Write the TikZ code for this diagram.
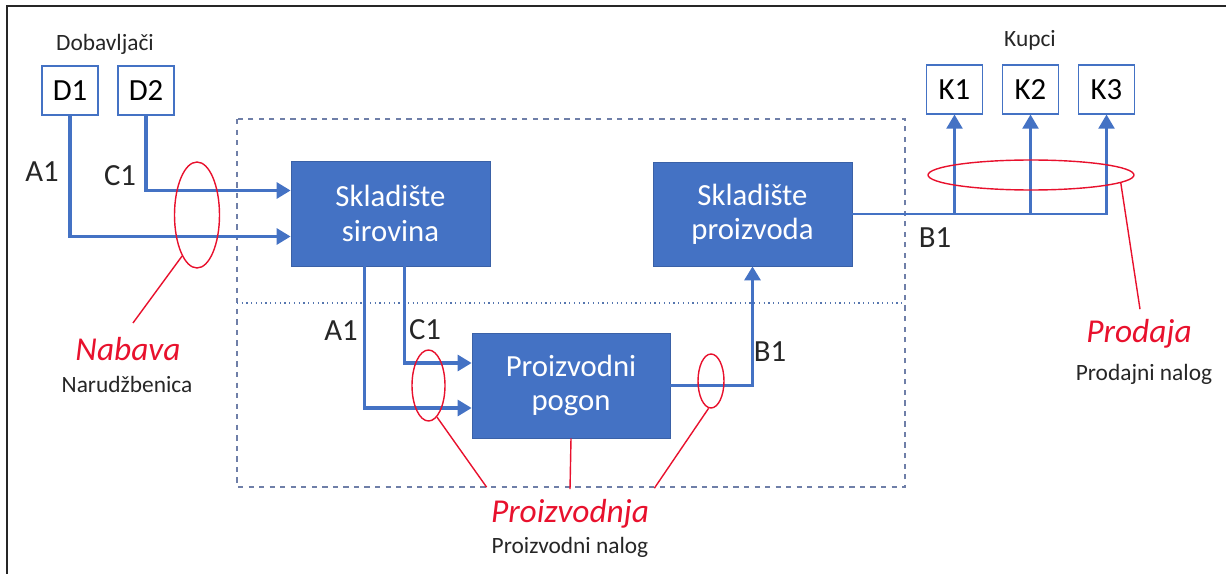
\documentclass[tikz,border=0pt]{standalone}
\usepackage{fontspec}
\setmainfont{Carlito}
\usetikzlibrary{arrows.meta,calc,shapes.geometric}

\definecolor{boxblue}{HTML}{4472C4}
\definecolor{markred}{HTML}{E8112D}
\definecolor{framegray}{HTML}{6F7FA8}

\begin{document}
\begin{tikzpicture}[x=0.02cm,y=-0.02cm]

\tikzset{
    unit/.style={fill=boxblue,draw=boxblue!85!black,text=white,align=center,inner sep=0pt,
        font=\fontsize{17.5}{19.5}\selectfont},
    party/.style={draw=boxblue,line width=0.6pt,fill=white,inner sep=0pt,
        minimum width=1.12cm,minimum height=0.98cm,font=\fontsize{17.5}{20}\selectfont},
    flow/.style={draw=boxblue,line width=2pt,-{Triangle[length=8pt,width=9pt]}},
    ring/.style={ellipse,draw=markred,line width=0.8pt,inner sep=0pt},
    note/.style={draw=markred,line width=0.8pt},
    tag/.style={font=\fontsize{17.5}{20}\selectfont,text=black!85,inner sep=0pt},
    small/.style={font=\fontsize{13.3}{16}\selectfont,text=black!85,inner sep=0pt},
    area/.style={text=markred,font=\fontsize{19}{22}\selectfont\itshape,inner sep=0pt}}

\useasboundingbox (0,0) rectangle (1226,574);
\draw[black!85,line width=1.6pt] (7,574) -- (7,6) -- (1226,6);

% firm
\draw[framegray,dashed,line width=0.7pt] (237,119) rectangle (905,487);
\draw[boxblue!70!gray,dotted,line width=0.7pt] (237,303) -- (905,303);

\node[unit,minimum width=3.98cm,minimum height=2.1cm] (sir) at (390.5,213.5) {Skladište\\sirovina};
\node[unit,minimum width=3.98cm,minimum height=2.08cm] (pro) at (752.5,214) {Skladište\\proizvoda};
\node[unit,minimum width=3.96cm,minimum height=2.1cm] (pog) at (571,385.5) {Proizvodni\\pogon};

% suppliers and customers
\node[small] (dob) at (105,44) {Dobavljači};
\node[party] (D1) at (70,90.5) {D1};
\node[party] (D2) at (146,90.5) {D2};

\node[small] (kup) at (1030,40) {Kupci};
\node[party] (K1) at (954.5,89.5) {K1};
\node[party] (K2) at (1030.5,89.5) {K2};
\node[party] (K3) at (1106.5,89.5) {K3};

\draw[flow] (D1.south) |- ($(sir.west)+(0,23)$);
\draw[flow] (D2.south) |- ($(sir.west)+(0,-23)$);
\draw[flow] ($(sir.south)+(-26,0)$) |- ($(pog.west)+(0,22.5)$);
\draw[flow] ($(sir.south)+(14,0)$) |- ($(pog.west)+(0,-22.5)$);
\draw[flow] (pog.east) -| (pro.south);
\draw[flow,line width=1.5pt] (pro.east) -| (K3.south);
\draw[flow,line width=1.5pt] (K1.south |- pro.east) -- (K1.south);
\draw[flow,line width=1.5pt] (K2.south |- pro.east) -- (K2.south);

\node[tag] (a1) at (42,172) {A1};
\node[tag] (c1) at (120,176) {C1};
\node[tag] (a2) at (341,331) {A1};
\node[tag] (c2) at (425,330) {C1};
\node[tag] (b1) at (770,352) {B1};
\node[tag] (b2) at (935,238) {B1};

% marks
\node[ring,minimum width=0.9cm,minimum height=2.12cm] (nab) at (197,215) {};
\node[ring,minimum width=0.66cm,minimum height=1.42cm] (pin) at (428.5,385.5) {};
\node[ring,minimum width=0.52cm,minimum height=1.08cm] (pout) at (711,381) {};
\node[ring,minimum width=4.12cm,minimum height=0.6cm] (prod) at (1031,175) {};

\node[area] (nabava) at (128,349) {Nabava};
\node[small] (narud) at (127,384) {Narudžbenica};
\node[area] (proizv) at (570,514) {Proizvodnja};
\node[small] (pnalog) at (570,547) {Proizvodni nalog};
\node[area] (prodaja) at (1139,334) {Prodaja};
\node[small] (dnalog) at (1144,374) {Prodajni nalog};

\draw[note] (nab.250) -- ($(nabava.north)+(5,-14)$);
\draw[note] (pin.285) -- ($(proizv.north west)+(-4,-12)$);
\draw[note] (pog.south) -- ($(proizv.north)+(0,-10)$);
\draw[note] (pout.265) -- ($(proizv.north east)+(5,-11)$);
\draw[note] (prod.355) -- ($(prodaja.north)+(1,-10)$);

\end{tikzpicture}
\end{document}
